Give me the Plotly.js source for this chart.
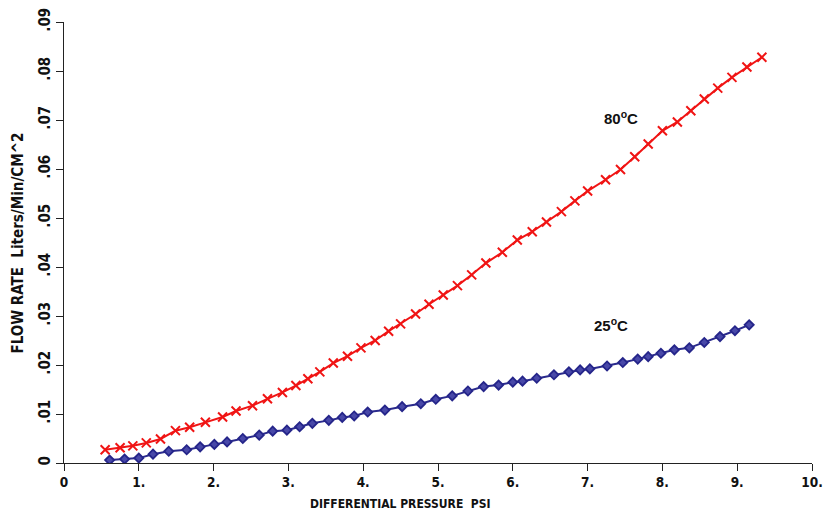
<!DOCTYPE html>
<html>
<head>
<meta charset="utf-8">
<script src="https://cdn.plot.ly/plotly-3.0.1.min.js"></script>
<style>html,body{margin:0;padding:0;background:#fff;}#chart{width:823px;height:514px;}</style>
</head>
<body>
<div id="chart"></div>
<script>
// 80°C series
const hotPressure = [0.55,0.75,0.92,1.1,1.29,1.49,1.68,1.89,2.12,2.3,2.52,2.72,2.92,3.1,3.26,3.42,3.6,3.79,3.97,4.16,4.34,4.5,4.7,4.88,5.07,5.26,5.45,5.64,5.86,6.06,6.26,6.45,6.65,6.83,7.0,7.24,7.44,7.63,7.81,8.0,8.2,8.38,8.56,8.74,8.93,9.13,9.33];
const hotFlow = [0.0027,0.0031,0.0035,0.0041,0.0049,0.0066,0.0073,0.0083,0.0094,0.0106,0.0117,0.0131,0.0144,0.0158,0.0172,0.0186,0.0204,0.0218,0.0235,0.025,0.0269,0.0284,0.0304,0.0324,0.0343,0.0362,0.0384,0.0408,0.043,0.0455,0.0472,0.0492,0.0513,0.0535,0.0555,0.0578,0.0599,0.0625,0.0651,0.0678,0.0696,0.0719,0.0743,0.0765,0.0787,0.0808,0.0828];
// 25°C series
const coldPressure = [0.61,0.81,1.0,1.19,1.4,1.64,1.82,2.01,2.18,2.39,2.61,2.79,2.98,3.15,3.32,3.54,3.72,3.88,4.06,4.29,4.52,4.77,4.97,5.19,5.4,5.61,5.81,6.0,6.13,6.32,6.55,6.75,6.9,7.03,7.26,7.47,7.67,7.81,7.98,8.16,8.36,8.56,8.77,8.97,9.16];
const coldFlow = [0.0006,0.0008,0.001,0.0018,0.0024,0.0027,0.0033,0.0038,0.0043,0.005,0.0057,0.0065,0.0067,0.0074,0.0081,0.0087,0.0093,0.0096,0.0104,0.0108,0.0115,0.0121,0.013,0.0137,0.0147,0.0156,0.0159,0.0165,0.0167,0.0173,0.018,0.0186,0.019,0.0192,0.0198,0.0205,0.0212,0.0217,0.0224,0.0231,0.0235,0.0246,0.0258,0.027,0.0282];

const xTickVals = [0,1,2,3,4,5,6,7,8,9,10];
const xTickText = ["0","1.","2.","3.","4.","5.","6.","7.","8.","9.","10."];
const yTickVals = [0,0.01,0.02,0.03,0.04,0.05,0.06,0.07,0.08,0.09];
const yTickText = ["0",".01",".02",".03",".04",".05",".06",".07",".08",".09"];

const seriesLabels = ["80<sup>o</sup>C", "25<sup>o</sup>C"];
const labelX = [7.44, 7.31];
const labelY = [0.0706, 0.0282];

const FONT = "'DejaVu Sans Condensed', 'Liberation Sans Narrow', 'Liberation Sans', Arial, sans-serif";

const traces = [
  {x: hotPressure, y: hotFlow, type: 'scatter', mode: 'lines+markers', name: '80C',
   line: {color: '#f01414', width: 2},
   marker: {symbol: 'x-thin-open', size: 9, color: '#f01414', line: {color: '#f01414', width: 2}}},
  {x: coldPressure, y: coldFlow, type: 'scatter', mode: 'lines+markers', name: '25C',
   line: {color: '#2a2a8c', width: 2},
   marker: {symbol: 'diamond', size: 7, color: '#4848a8', line: {color: '#25258a', width: 1.8}}}
];

const annotations = [
  {text: seriesLabels[0], x: labelX[0], y: labelY[0], xref: 'x', yref: 'y', showarrow: false,
   xanchor: 'center', yanchor: 'middle',
   font: {family: "'Liberation Sans', Arial, sans-serif", size: 15, color: '#111', weight: 'bold'}},
  {text: seriesLabels[1], x: labelX[1], y: labelY[1], xref: 'x', yref: 'y', showarrow: false,
   xanchor: 'center', yanchor: 'middle',
   font: {family: "'Liberation Sans', Arial, sans-serif", size: 15, color: '#111', weight: 'bold'}},
  {text: 'DIFFERENTIAL PRESSURE  PSI', xref: 'paper', yref: 'paper', x: 0.45, y: -0.093,
   xanchor: 'center', yanchor: 'middle',
   showarrow: false, font: {family: FONT, size: 12, color: '#111', weight: 'bold'}},
  {text: 'FLOW RATE  Liters/Min/CM^2', xref: 'paper', yref: 'paper', x: -0.0615, y: 0.5,
   xanchor: 'center', yanchor: 'middle',
   textangle: -90, showarrow: false, font: {family: FONT, size: 15, color: '#111', weight: 'bold'}}
];

const layout = {
  width: 823, height: 514,
  margin: {l: 64, r: 11, t: 22, b: 51},
  paper_bgcolor: '#fff', plot_bgcolor: '#fff',
  showlegend: false,
  xaxis: {range: [0, 10], tickvals: xTickVals, ticktext: xTickText, showgrid: false, zeroline: false,
          showline: true, linecolor: '#222', linewidth: 1, ticks: 'outside', ticklen: 7, tickcolor: '#222',
          ticklabeloverflow: 'allow',
          tickfont: {family: FONT, size: 13.5, color: '#111', weight: 'bold'}, title: {text: ''}},
  yaxis: {range: [0, 0.09], tickvals: yTickVals, ticktext: yTickText, showgrid: false, zeroline: false,
          showline: true, linecolor: '#222', linewidth: 1, ticks: 'outside', ticklen: 7, tickcolor: '#222',
          ticklabeloverflow: 'allow',
          tickangle: -90, tickfont: {family: FONT, size: 15, color: '#111', weight: 'bold'}, title: {text: ''}},
  annotations: annotations
};

Plotly.newPlot('chart', traces, layout, {displayModeBar: false, staticPlot: true});
</script>
</body>
</html>
